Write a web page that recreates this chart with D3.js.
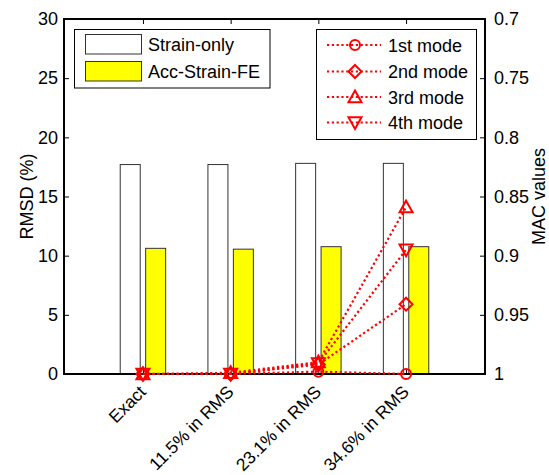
<!DOCTYPE html>
<html><head><meta charset="utf-8">
<script src="https://cdn.jsdelivr.net/npm/d3@7"></script>
<style>
body{margin:0;background:#fff;}
svg{display:block;font-family:"Liberation Sans",Arial,sans-serif;}
</style></head>
<body><svg id="c" width="549" height="475"></svg>
<script>
const categories = ["Exact","11.5% in RMS","23.1% in RMS","34.6% in RMS"];
const strainOnly = [17.7,17.7,17.8,17.8];
const accStrainFE = [10.62,10.55,10.76,10.76];
const mode1 = [1,1,0.998,1];
const mode2 = [1,1,0.992,0.941];
const mode3 = [1,0.999,0.990,0.859];
const mode4 = [1,1,0.991,0.895];
const leftTicks = [0,5,10,15,20,25,30];
const rightTicks = [0.7,0.75,0.8,0.85,0.9,0.95,1];
const modeNames = ["1st mode","2nd mode","3rd mode","4th mode"];
const barNames = ["Strain-only","Acc-Strain-FE"];

const svg = d3.select("#c");
const L=64,R=485,T=19,B=374;
const x = d3.scaleLinear().domain([0.1,4.9]).range([L,R]);
const yL = d3.scaleLinear().domain([0,30]).range([B,T]);
const yR = d3.scaleLinear().domain([0.7,1]).range([T,B]);
const FS = 18;
const red = "#ff0000";

// bars
const off = 0.145, bw = 0.228;
const bars = [{vals:strainOnly, fill:"#ffffff", dx:-off},{vals:accStrainFE, fill:"#ffff00", dx:off}];
bars.forEach(s=>{
  svg.append("g").selectAll("rect").data(s.vals).join("rect")
    .attr("x",(d,i)=>x(i+1+s.dx-bw/2)).attr("width",x(bw)-x(0))
    .attr("y",d=>yL(d)).attr("height",d=>yL(0)-yL(d))
    .attr("fill",s.fill).attr("stroke","#333").attr("stroke-width",1);
});

// frame
svg.append("rect").attr("x",L).attr("y",T).attr("width",R-L).attr("height",B-T)
  .attr("fill","none").attr("stroke","#000").attr("stroke-width",2);

// left axis
const axL = d3.axisLeft(yL).tickValues(leftTicks).tickSize(-5).tickPadding(6).tickFormat(d3.format("d"));
svg.append("g").attr("transform",`translate(${L},0)`).call(axL);
// right axis
const axR = d3.axisRight(yR).tickValues(rightTicks).tickSize(-5).tickPadding(9).tickFormat(d=>d===1?"1":String(d));
svg.append("g").attr("transform",`translate(${R},0)`).call(axR);
// top/bottom ticks
const axT = d3.axisTop(x).tickValues([1,2,3,4]).tickSize(-5).tickFormat("");
svg.append("g").attr("transform",`translate(0,${T})`).call(axT);
const axB = d3.axisBottom(x).tickValues([1,2,3,4]).tickSize(-5).tickFormat("");
svg.append("g").attr("transform",`translate(0,${B})`).call(axB);
svg.selectAll(".domain").remove();
svg.selectAll(".tick line").attr("stroke","#000").attr("stroke-width",1);
svg.selectAll(".tick text").attr("font-size",FS).attr("fill","#000").attr("font-family",'"Liberation Sans",Arial,sans-serif');

// x labels rotated
svg.append("g").selectAll("text").data(categories).join("text")
  .attr("transform",(d,i)=>`translate(${x(i+1)+4},${B+19}) rotate(-45)`)
  .attr("text-anchor","end").attr("font-size",17.5).text(d=>d);

// axis titles
svg.append("text").attr("transform",`translate(33,${(T+B)/2}) rotate(-90)`)
  .attr("text-anchor","middle").attr("font-size",FS).text("RMSD (%)");
svg.append("text").attr("transform",`translate(545,${(T+B)/2}) rotate(-90)`)
  .attr("text-anchor","middle").attr("font-size",FS).text("MAC values");

// markers
function marker(g,type,cx,cy){
  const s=6.5;
  let p;
  if(type===0){ g.append("circle").attr("cx",cx).attr("cy",cy).attr("r",5).attr("fill","none").attr("stroke",red).attr("stroke-width",2); return;}
  if(type===1) p=[[cx,cy-s],[cx+s,cy],[cx,cy+s],[cx-s,cy]];
  if(type===2) p=[[cx,cy-s],[cx+s,cy+s*0.8],[cx-s,cy+s*0.8]];
  if(type===3) p=[[cx,cy+s],[cx+s,cy-s*0.8],[cx-s,cy-s*0.8]];
  g.append("polygon").attr("points",p.map(q=>q.join(",")).join(" "))
    .attr("fill","none").attr("stroke",red).attr("stroke-width",2).attr("stroke-linejoin","miter");
}
const modes=[mode1,mode2,mode3,mode4];
const line = d3.line().x((d,i)=>x(i+1)).y(d=>yR(d));
modes.forEach((m,k)=>{
  const g=svg.append("g");
  g.append("path").attr("d",line(m)).attr("fill","none").attr("stroke",red)
    .attr("stroke-width",2.2).attr("stroke-dasharray","2.2,2.6");
  m.forEach((v,i)=>marker(g,k,x(i+1),yR(v)));
});

// legend 1
const lg1=svg.append("g");
lg1.append("rect").attr("x",74.5).attr("y",29.5).attr("width",195.5).attr("height",58.5)
  .attr("fill","#fff").attr("stroke","#000").attr("stroke-width",1);
[["#ffffff",34.5],["#ffff00",61.5]].forEach((c,i)=>{
  lg1.append("rect").attr("x",85.5).attr("y",c[1]).attr("width",56).attr("height",19.5)
    .attr("fill",c[0]).attr("stroke","#333").attr("stroke-width",1);
  lg1.append("text").attr("x",148).attr("y",c[1]+16).attr("font-size",FS).text(barNames[i]);
});

// legend 2
const lg2=svg.append("g");
lg2.append("rect").attr("x",316.5).attr("y",29.5).attr("width",160).attr("height",110)
  .attr("fill","#fff").attr("stroke","#000").attr("stroke-width",1);
[45,71.5,97,122.5].forEach((yy,k)=>{
  lg2.append("line").attr("x1",327).attr("x2",381).attr("y1",yy).attr("y2",yy)
    .attr("stroke",red).attr("stroke-width",2.2).attr("stroke-dasharray","2.2,2.6");
  marker(lg2,k,355,yy);
  lg2.append("text").attr("x",388).attr("y",yy+6.5).attr("font-size",FS).text(modeNames[k]);
});
</script></body></html>
